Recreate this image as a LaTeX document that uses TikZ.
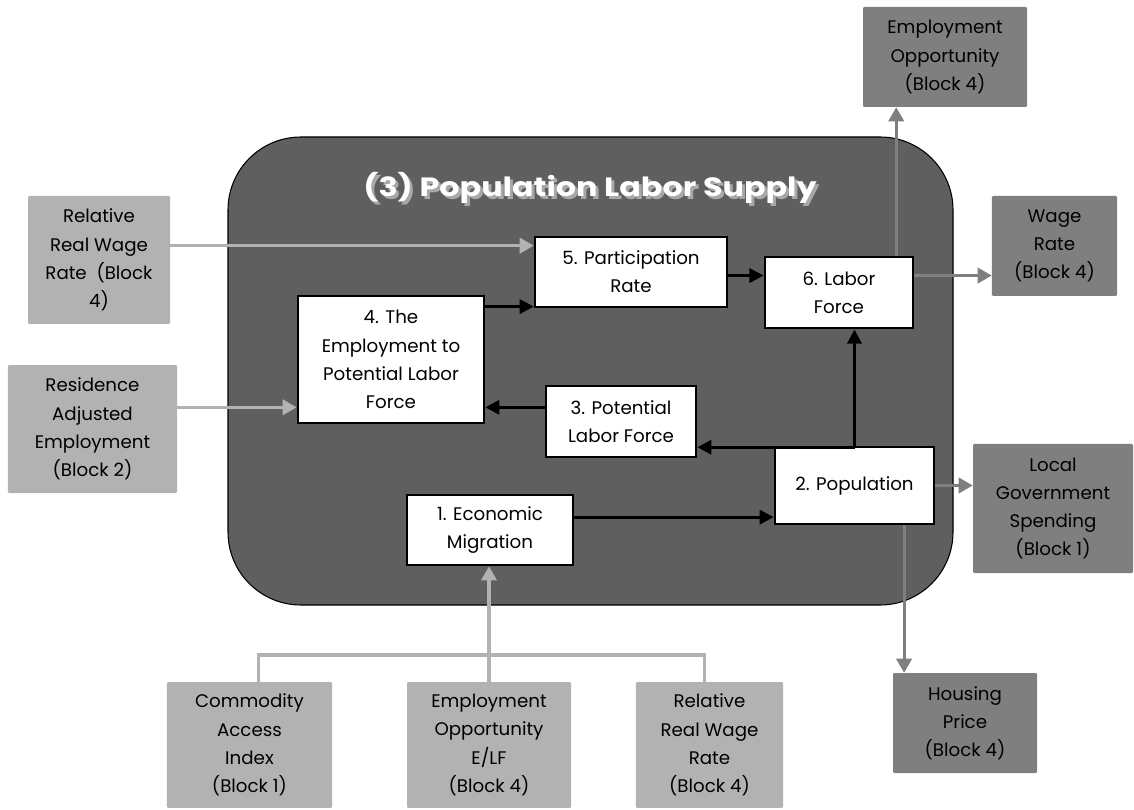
\documentclass[tikz,border=0pt]{standalone}
\usepackage{fontspec}
\setmainfont{Poppins}
\usepackage{tikz}
\usetikzlibrary{arrows.meta,positioning,calc}

\definecolor{lightbox}{HTML}{B2B2B2}
\definecolor{midbox}{HTML}{7F7F7F}
\definecolor{blockfill}{HTML}{5F5F5F}
\definecolor{shadowgray}{HTML}{A8A8A8}

\begin{document}
\begin{tikzpicture}[x=0.85pt, y=-0.85pt,
    inbox/.style={rectangle, draw=black, line width=2.3pt, fill=white, align=center, inner sep=0pt, font=\fontsize{15.5}{24}\selectfont},
    extbox/.style={rectangle, rounded corners=1pt, align=center, inner sep=0pt, font=\fontsize{15.5}{24}\selectfont},
    lightext/.style={extbox, fill=lightbox},
    midext/.style={extbox, fill=midbox},
    blkarrow/.style={-{Triangle[length=12pt,width=12pt]}, line width=2.6pt, black},
    lgline/.style={line width=2.6pt, lightbox},
    lgarrow/.style={lgline, -{Triangle[length=12pt,width=13pt]}},
    mgarrow/.style={-{Triangle[length=12pt,width=13pt]}, line width=2.6pt, midbox},
    titletext/.style={font=\fontsize{22.5}{26}\selectfont\bfseries, inner sep=0pt}]

    \useasboundingbox (0,0) rectangle (1134,810);

    % Block frame
    \draw[fill=blockfill, draw=black, line width=0.9pt, rounded corners=62pt] (228,137) rectangle (953,605);
    \node[titletext, text=shadowgray] (titleshadow) at (593,191) {\scalebox{1.2}[1]{(3) Population Labor Supply}};
    \node[titletext, text=white] (title) at (590,188) {\scalebox{1.2}[1]{(3) Population Labor Supply}};

    % Inner blocks
    \node[inbox, minimum width=163pt, minimum height=59.5pt] (part) at (631,272) {5. Participation\\Rate};
    \node[inbox, minimum width=126pt, minimum height=60.5pt] (labf) at (839,292.5) {6. Labor\\Force};
    \node[inbox, minimum width=158pt, minimum height=108pt] (e2p) at (391,359.5) {4. The\\Employment to\\Potential Labor\\Force};
    \node[inbox, minimum width=127.5pt, minimum height=60.5pt] (plf) at (621,421.5) {3. Potential\\Labor Force};
    \node[inbox, minimum width=135pt, minimum height=65.5pt] (pop) at (854.5,485.5) {2. Population};
    \node[inbox, minimum width=141pt, minimum height=59.5pt] (mig) at (490,530) {1. Economic\\Migration};

    % Inputs from other blocks
    \node[lightext, minimum width=120.7pt, minimum height=108.8pt] (relwage) at (99,260) {Relative\\Real Wage\\Rate \ (Block\\4)};
    \node[lightext, minimum width=143.7pt, minimum height=108.8pt] (resid) at (92.5,429) {Residence\\Adjusted\\Employment\\(Block 2)};
    \node[lightext, minimum width=140.3pt, minimum height=107pt] (cai) at (249.5,745) {Commodity\\Access\\Index\\(Block 1)};
    \node[lightext, minimum width=139.4pt, minimum height=107pt] (eoelf) at (489,745) {Employment\\Opportunity\\E/LF\\(Block 4)};
    \node[lightext, minimum width=125pt, minimum height=107pt] (rrw) at (709.5,745) {Relative\\Real Wage\\Rate\\(Block 4)};

    % Outputs to other blocks
    \node[midext, minimum width=139.4pt, minimum height=85pt] (empopp) at (945,57) {Employment\\Opportunity\\(Block 4)};
    \node[midext, minimum width=106.3pt, minimum height=85pt] (wage) at (1054.5,246) {Wage\\Rate\\(Block 4)};
    \node[midext, minimum width=136pt, minimum height=109.7pt] (locgov) at (1053,508.5) {Local\\Government\\Spending\\(Block 1)};
    \node[midext, minimum width=122.4pt, minimum height=85pt] (housing) at (965,723) {Housing\\Price\\(Block 4)};

    % Arrow ends
    \coordinate (in5a) at ([yshift=-8.5pt]part.north west);
    \coordinate (in5b) at ([yshift=1.5pt]part.south west);
    \coordinate (in6) at ([yshift=-17pt]labf.north west);
    \coordinate (up6) at ([xshift=-15.5pt]labf.north east);
    \coordinate (in4) at ([yshift=14.5pt]e2p.south west);
    \coordinate (in3) at ([yshift=9.5pt]plf.south east);
    \coordinate (in2) at ([yshift=7pt]pop.south west);
    \coordinate (down2) at ([xshift=-26.5pt]pop.south east);
    \coordinate (join) at (489,655);

    % Arrows
    \draw[lgarrow] (relwage.east |- in5a) -- (in5a);
    \draw[blkarrow] (e2p.east |- in5b) -- (in5b);
    \draw[blkarrow] (part.east |- in6) -- (in6);
    \draw[mgarrow] (up6) -- (up6 |- empopp.south);
    \draw[mgarrow] (in6 -| labf.east) -- (in6 -| wage.west);
    \draw[lgarrow] (resid.east |- in4) -- (in4);
    \draw[blkarrow] (plf.west |- in4) -- (in4 -| e2p.east);
    \draw[blkarrow] (pop.north) -- (pop.north |- labf.south);
    \draw[blkarrow] (pop.north |- in3) -- (in3);
    \draw[blkarrow] (mig.east |- in2) -- (in2);
    \draw[mgarrow] (pop.east) -- (pop.east -| locgov.west);
    \draw[mgarrow] (down2) -- (down2 |- housing.north);
    \draw[lgline] ([xshift=8pt]cai.north) |- (join) -| ([xshift=-4pt]rrw.north);
    \draw[lgarrow] (eoelf.north) -- (eoelf.north |- mig.south);

\end{tikzpicture}
\end{document}
